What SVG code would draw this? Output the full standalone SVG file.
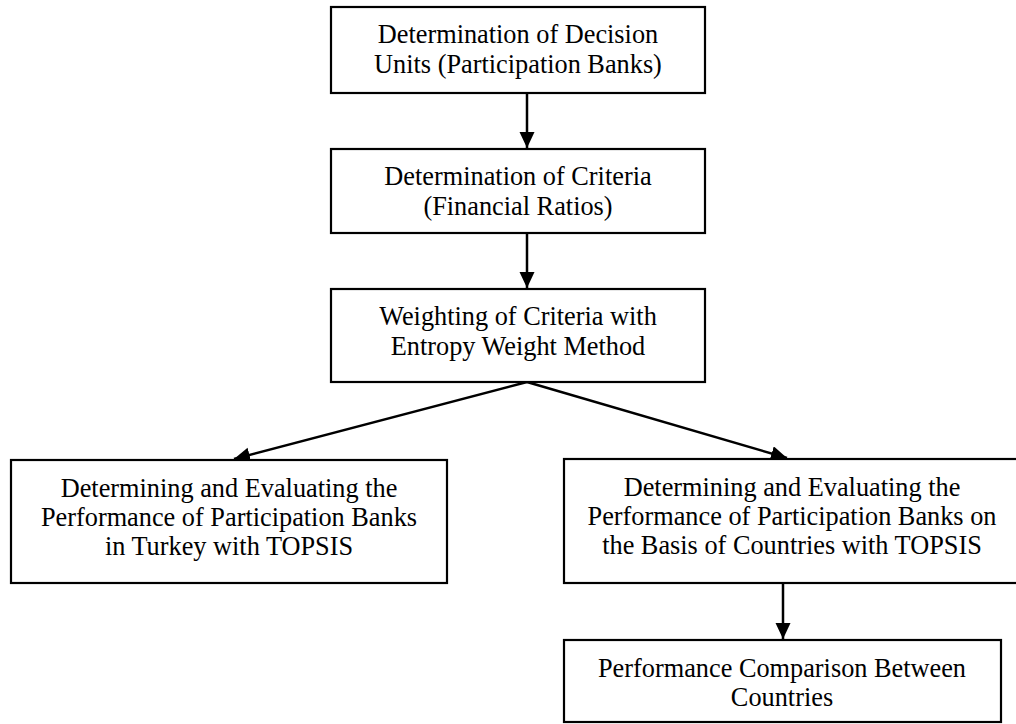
<svg xmlns="http://www.w3.org/2000/svg" width="1016" height="724" viewBox="0 0 1016 724">
<style>
.box{fill:#fff;stroke:#000;stroke-width:2.2}
.t{font-family:"Liberation Serif","Times New Roman",serif;font-size:26.3px;fill:#000;text-anchor:middle}
.c{stroke:#000;stroke-width:2.5;fill:none;marker-end:url(#ah)}
</style>
<defs>
<marker id="ah" markerUnits="userSpaceOnUse" markerWidth="17" markerHeight="16" refX="16" refY="7.5" orient="auto">
<path d="M0,0 L16,7.5 L0,15 z" fill="#000"/>
</marker>
</defs>
<rect width="1016" height="724" fill="#fff"/>
<g id="connectors">
<line class="c" x1="527" y1="93" x2="527" y2="148"/>
<line class="c" x1="527" y1="233" x2="527" y2="288"/>
<line class="c" x1="527" y1="382" x2="234" y2="459"/>
<line class="c" x1="527" y1="382" x2="787" y2="458"/>
<line class="c" x1="783" y1="583" x2="783" y2="639"/>
</g>
<g id="n1">
<rect class="box" x="331" y="7" width="374" height="86"/>
<text class="t" x="518" y="43">Determination of Decision</text>
<text class="t" x="518" y="73">Units (Participation Banks)</text>
</g>
<g id="n2">
<rect class="box" x="331" y="149" width="374" height="84"/>
<text class="t" x="518" y="185">Determination of Criteria</text>
<text class="t" x="518" y="215">(Financial Ratios)</text>
</g>
<g id="n3">
<rect class="box" x="331" y="289" width="374" height="93"/>
<text class="t" x="518" y="325">Weighting of Criteria with</text>
<text class="t" x="518" y="355">Entropy Weight Method</text>
</g>
<g id="n4">
<rect class="box" x="11" y="460" width="436" height="123"/>
<text class="t" x="229" y="497">Determining and Evaluating the</text>
<text class="t" x="229" y="526">Performance of Participation Banks</text>
<text class="t" x="229" y="555">in Turkey with TOPSIS</text>
</g>
<g id="n5">
<rect class="box" x="564" y="459" width="456" height="124"/>
<text class="t" x="792" y="496">Determining and Evaluating the</text>
<text class="t" x="792" y="525">Performance of Participation Banks on</text>
<text class="t" x="792" y="554">the Basis of Countries with TOPSIS</text>
</g>
<g id="n6">
<rect class="box" x="564" y="640" width="437" height="82"/>
<text class="t" x="782" y="677">Performance Comparison Between</text>
<text class="t" x="782" y="706">Countries</text>
</g>
</svg>
